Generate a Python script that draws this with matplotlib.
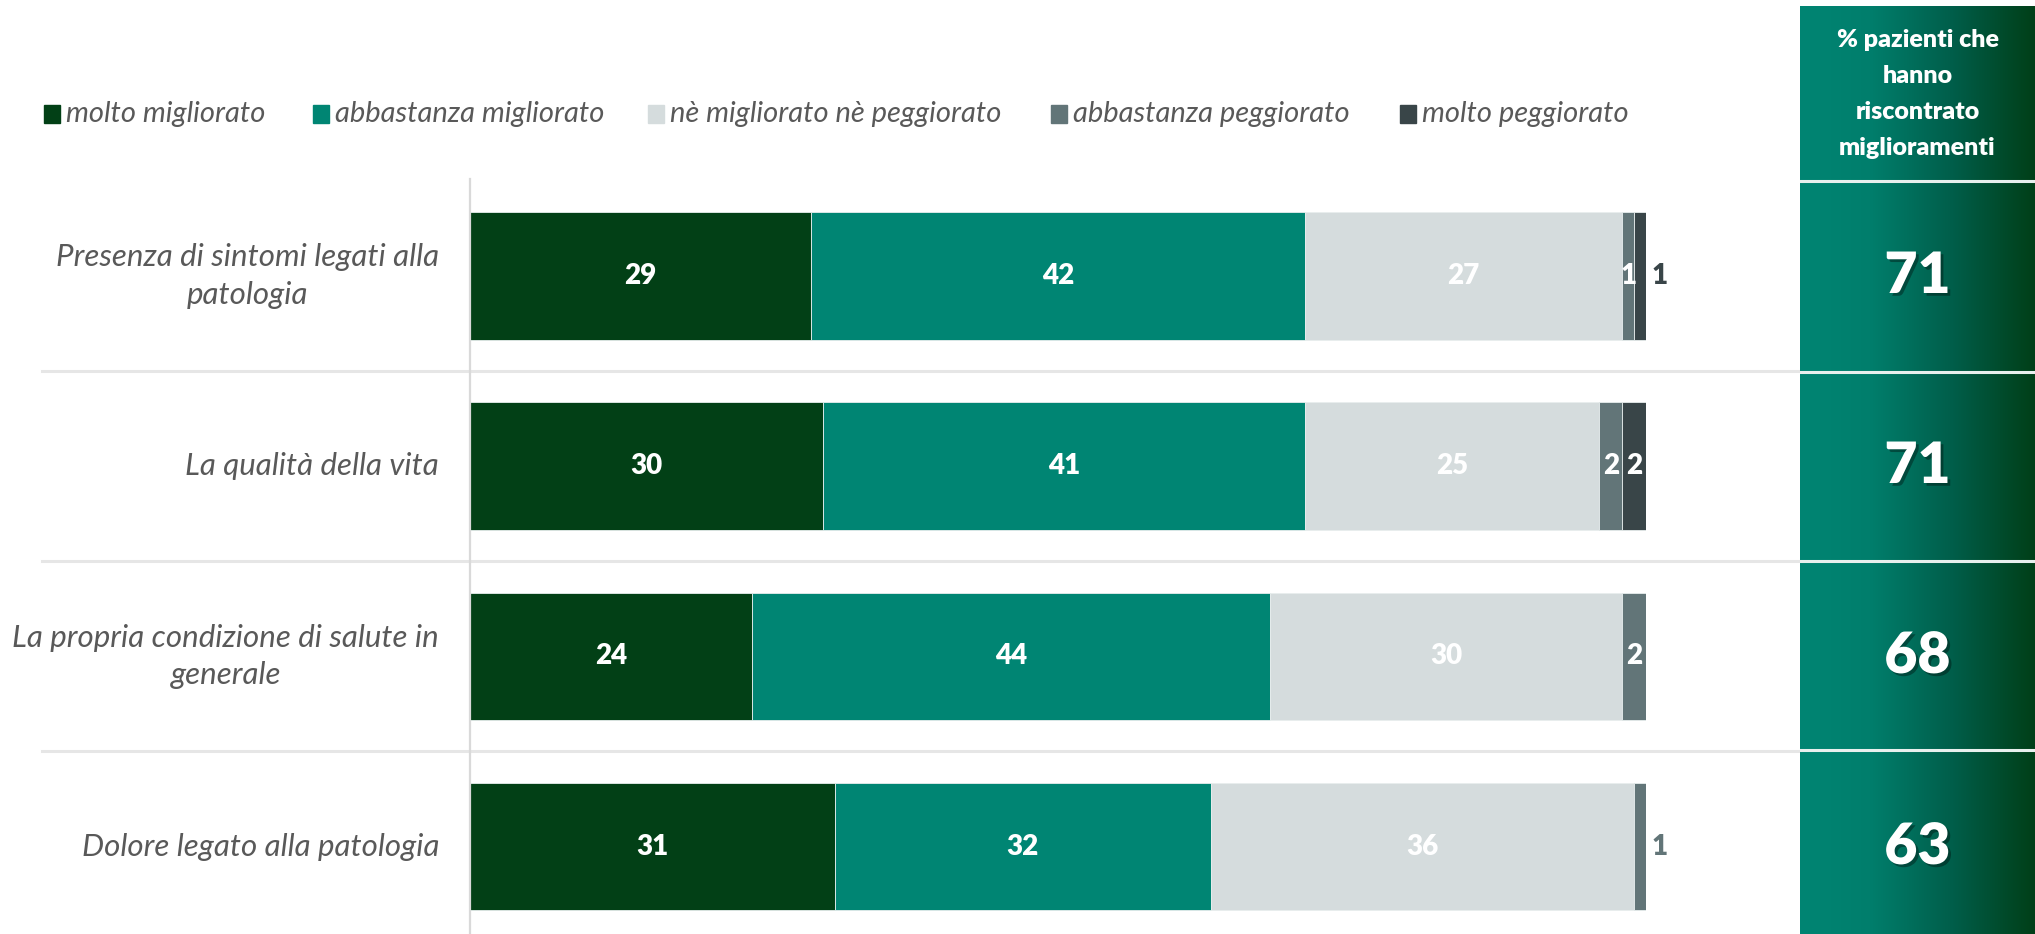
import matplotlib
matplotlib.use("Agg")
import matplotlib.pyplot as plt
import matplotlib.patheffects as pe
from matplotlib.patches import Rectangle
from matplotlib.colors import LinearSegmentedColormap
from matplotlib.transforms import blended_transform_factory
import numpy as np

plt.rcParams['font.family'] = ['Lato', 'DejaVu Sans']

categories = ["Presenza di sintomi legati alla\npatologia",
              "La qualità della vita",
              "La propria condizione di salute in\ngenerale",
              "Dolore legato alla patologia"]
series_names = ["molto migliorato", "abbastanza migliorato",
                "nè migliorato nè peggiorato", "abbastanza peggiorato",
                "molto peggiorato"]
molto_migliorato = [29, 30, 24, 31]
abbastanza_migliorato = [42, 41, 44, 32]
ne_ne = [27, 25, 30, 36]
abbastanza_peggiorato = [1, 2, 2, 1]
molto_peggiorato = [1, 2, 0, 0]
pct_miglioramenti = [71, 71, 68, 63]
header_text = "% pazienti che\nhanno\nriscontrato\nmiglioramenti"

colors = ["#024016", "#008573", "#d5dcdd", "#627578", "#394548"]

series = [molto_migliorato, abbastanza_migliorato, ne_ne,
          abbastanza_peggiorato, molto_peggiorato]

W, H = 2035, 934
fig = plt.figure(figsize=(W / 100, H / 100), dpi=100)

# ---- bar axes ----
ax_left, ax_right_px = 470, 1646
ax_top = 179
ax = fig.add_axes([ax_left / W, 0, (ax_right_px - ax_left) / W, (H - ax_top) / H])
ax.set_xlim(0, 100)
ax.set_ylim(3.46, -0.51)
y = np.arange(len(categories))
left = np.zeros(len(categories))
VAL_FS = 20
for i, (vals, c) in enumerate(zip(series, colors)):
    vals = np.array(vals, dtype=float)
    ax.barh(y, vals, left=left, height=0.67, color=c,
            edgecolor="#e8eeee", linewidth=0.6)
    for j, v in enumerate(vals):
        if v <= 0:
            continue
        xc = left[j] + v / 2
        if v < 1.5 and i == 4:
            ax.text(left[j] + v + 0.5, y[j], f"{int(v)}", ha="left", va="center",
                    fontsize=VAL_FS, fontweight="heavy", color=colors[4])
        elif v < 1.5 and i == 3 and (molto_peggiorato[j] == 0):
            ax.text(left[j] + v + 0.5, y[j], f"{int(v)}", ha="left", va="center",
                    fontsize=VAL_FS, fontweight="heavy", color=colors[3])
        else:
            ax.text(xc, y[j], f"{int(v)}", ha="center", va="center",
                    fontsize=VAL_FS, fontweight="heavy", color="white")
    left += vals

for s in ["top", "right", "bottom"]:
    ax.spines[s].set_visible(False)
ax.spines["left"].set_color("#d9d9d9")
ax.spines["left"].set_linewidth(1.6)
ax.set_xticks([])
ax.set_yticks([])

tr = blended_transform_factory(fig.transFigure, ax.transData)
# category labels
for j, cat in enumerate(categories):
    ax.text(439 / W, y[j], cat, transform=tr,
            ha="right", va="center", multialignment="center", fontsize=22.5,
            style="italic", color="#595959", linespacing=1.42)

# separators
for ys in [0.5, 1.5, 2.5]:
    ax.plot([42 / W, 1800 / W], [ys, ys], transform=tr, color="#e6e6e6",
            lw=2.2, clip_on=False, zorder=0)

# ---- legend (manual) ----
leg_x = [44, 313, 648, 1051, 1400]
leg_y = 114
for name, c, lx in zip(series_names, colors, leg_x):
    fig.patches.append(Rectangle((lx / W, (H - leg_y - 8.5) / H), 16 / W, 17 / H,
                                 transform=fig.transFigure, color=c))
    fig.text((lx + 22) / W, (H - leg_y) / H, name, ha="left", va="center",
             fontsize=21, style="italic", color="#595959")

# ---- right panel with gradient ----
pan_l, pan_t = 1800, 6
axp = fig.add_axes([pan_l / W, 0, (W - pan_l) / W, (H - pan_t) / H])
cmap = LinearSegmentedColormap.from_list(
    "grad", [(0, "#008573"), (0.3, "#007e6c"), (0.65, "#005e4a"), (1.0, "#003f18")])
grad = np.linspace(0, 1, 256)[None, :]
axp.imshow(grad, aspect="auto", cmap=cmap, extent=[0, 1, H, pan_t], zorder=0)
axp.set_xlim(0, 1)
axp.set_ylim(H, pan_t)
axp.axis("off")
for yl in [181, 372, 561, 750]:
    axp.axhline(yl, color="#e8f0ee", lw=2.2, zorder=2)
axp.text(0.5, 94, header_text, ha="center", va="center", fontsize=18,
         fontweight="heavy", color="white", linespacing=1.78, zorder=3)
row_px = [276, 466, 656, 847]
for rp, v in zip(row_px, pct_miglioramenti):
    axp.text(0.5, rp, f"{v}", ha="center", va="center", fontsize=41,
             fontweight="heavy", color="white", zorder=3,
             path_effects=[pe.SimplePatchShadow(offset=(2, -2), shadow_rgbFace="black", alpha=0.35),
                           pe.Normal()])

fig.savefig("out.png", dpi=100)
